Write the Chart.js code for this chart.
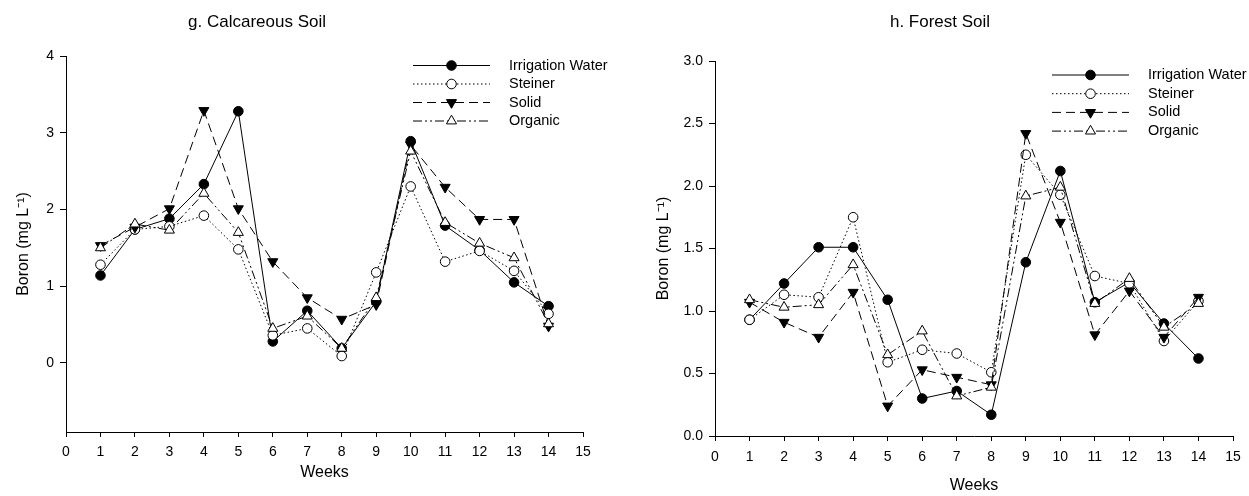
<!DOCTYPE html>
<html>
<head>
<meta charset="utf-8">
<title>Boron - Calcareous and Forest Soil</title>
<script src="https://cdn.jsdelivr.net/npm/chart.js"></script>
<style>
  body { margin: 0; background: #fff; }
  #wrap { position: relative; width: 1249px; height: 496px; }
  canvas { position: absolute; top: 0; }
  #calcChart { left: 0; }
  #forestChart { left: 625px; }
</style>
</head>
<body>
<div id="wrap">
  <canvas id="calcChart" width="625" height="496"></canvas>
  <canvas id="forestChart" width="624" height="496"></canvas>
</div>
<script>
/* DATA */
const weeks = [1, 2, 3, 4, 5, 6, 7, 8, 9, 10, 11, 12, 13, 14];
const seriesNames = ['Irrigation Water', 'Steiner', 'Solid', 'Organic'];
const xTicks = [0, 1, 2, 3, 4, 5, 6, 7, 8, 9, 10, 11, 12, 13, 14, 15];
const calcYTicks = [0, 1, 2, 3, 4];
const forestYTicks = [0, 0.5, 1, 1.5, 2, 2.5, 3];

// g. Calcareous Soil (mg/L)
const calcIrrigation = [1.14, 1.74, 1.88, 2.33, 3.28, 0.28, 0.68, 0.19, 0.80, 2.89, 1.79, 1.47, 1.05, 0.74];
const calcSteiner    = [1.28, 1.74, 1.78, 1.92, 1.48, 0.36, 0.45, 0.09, 1.18, 2.30, 1.32, 1.46, 1.20, 0.64];
const calcSolid      = [1.53, 1.77, 2.01, 3.29, 2.01, 1.32, 0.85, 0.57, 0.76, 2.84, 2.29, 1.87, 1.87, 0.48];
const calcOrganic    = [1.50, 1.81, 1.73, 2.21, 1.70, 0.45, 0.61, 0.19, 0.85, 2.76, 1.83, 1.56, 1.37, 0.51];

// h. Forest Soil (mg/L)
const forestIrrigation = [0.93, 1.22, 1.51, 1.51, 1.09, 0.30, 0.36, 0.17, 1.39, 2.12, 1.07, 1.23, 0.90, 0.62];
const forestSteiner    = [0.93, 1.13, 1.11, 1.75, 0.59, 0.69, 0.66, 0.51, 2.25, 1.93, 1.28, 1.22, 0.76, 1.08];
const forestSolid      = [1.07, 0.91, 0.79, 1.15, 0.24, 0.53, 0.47, 0.41, 2.42, 1.71, 0.81, 1.16, 0.79, 1.11];
const forestOrganic    = [1.09, 1.03, 1.05, 1.37, 0.65, 0.84, 0.32, 0.39, 1.92, 1.99, 1.06, 1.26, 0.87, 1.06];

const FONT = '"Liberation Sans", Arial, sans-serif';

// panel title, placed where SigmaPlot put it (not centred on the canvas)
const panelTitle = {
  id: 'panelTitle',
  afterDraw(chart, args, opts) {
    const ctx = chart.ctx;
    ctx.save();
    ctx.fillStyle = '#000';
    ctx.font = '17px ' + FONT;
    ctx.textAlign = 'center';
    ctx.textBaseline = 'middle';
    ctx.fillText(opts.text, opts.x, opts.y);
    ctx.restore();
  }
};

// line + marker legend, drawn like the SigmaPlot one
const lineLegend = {
  id: 'lineLegend',
  afterDraw(chart, args, opts) {
    const ctx = chart.ctx;
    chart.data.datasets.forEach((ds, i) => {
      const y = opts.y + i * opts.rowGap;
      const mid = (opts.x1 + opts.x2) / 2;
      ctx.save();
      ctx.strokeStyle = '#000';
      ctx.lineWidth = ds.borderWidth;
      ctx.setLineDash(ds.borderDash);
      ctx.beginPath();
      ctx.moveTo(opts.x1, y);
      ctx.lineTo(opts.x2, y);
      ctx.stroke();
      ctx.setLineDash([]);
      ctx.fillStyle = ds.pointBackgroundColor;
      ctx.strokeStyle = '#000';
      ctx.lineWidth = 1;
      Chart.helpers.drawPoint(ctx, {
        pointStyle: ds.pointStyle,
        rotation: ds.pointRotation,
        radius: ds.pointRadius,
        borderWidth: 1
      }, mid, y);
      ctx.fillStyle = '#000';
      ctx.font = '14.5px ' + FONT;
      ctx.textBaseline = 'middle';
      ctx.textAlign = 'left';
      ctx.fillText(ds.label, opts.textX, y);
      ctx.restore();
    });
  }
};

function makeDatasets(vals) {
  const styles = [
    { dash: [], point: 'circle', rot: 0, r: 4.8, fill: '#000' },
    { dash: [1.5, 2.5], point: 'circle', rot: 0, r: 4.8, fill: '#fff' },
    { dash: [9, 5], point: 'triangle', rot: 180, r: 5.8, fill: '#000' },
    { dash: [9, 3, 2, 3, 2, 3], point: 'triangle', rot: 0, r: 5.8, fill: '#fff' }
  ];
  return vals.map((v, i) => ({
    label: seriesNames[i],
    data: weeks.map((w, j) => ({ x: w, y: v[j] })),
    borderColor: '#000',
    borderWidth: 1,
    borderDash: styles[i].dash,
    pointStyle: styles[i].point,
    pointRotation: styles[i].rot,
    pointRadius: styles[i].r,
    pointBackgroundColor: styles[i].fill,
    pointBorderColor: '#000',
    pointBorderWidth: 1,
    fill: false,
    tension: 0,
    order: 4 - i // later series drawn on top
  }));
}

function makeOptions(cfg) {
  return {
    responsive: false,
    animation: false,
    layout: { padding: { left: 0, right: cfg.padRight, top: cfg.padTop, bottom: 0 } },
    plugins: {
      legend: { display: false },
      tooltip: { enabled: false },
      title: { display: false },
      panelTitle: cfg.title,
      lineLegend: cfg.legend
    },
    scales: {
      x: {
        type: 'linear',
        min: 0,
        max: 15,
        afterBuildTicks: s => { s.ticks = xTicks.map(v => ({ value: v })); },
        afterFit: s => { s.height = cfg.xHeight; },
        grid: { drawOnChartArea: false, drawTicks: true, tickLength: 5, color: '#000' },
        border: { display: true, color: '#000', width: 1 },
        ticks: { color: '#000', font: { family: FONT, size: 14 }, padding: cfg.xTickPad, maxRotation: 0 },
        title: {
          display: true,
          text: 'Weeks',
          color: '#000',
          font: { family: FONT, size: 16 },
          padding: { top: 0, bottom: cfg.xTitlePad }
        }
      },
      y: {
        min: cfg.yMin,
        max: cfg.yMax,
        afterBuildTicks: s => { s.ticks = cfg.yTicks.map(v => ({ value: v })); },
        afterFit: s => { s.width = cfg.yWidth; },
        grid: { drawOnChartArea: false, drawTicks: true, tickLength: 6, color: '#000' },
        border: { display: true, color: '#000', width: 1 },
        ticks: {
          color: '#000',
          font: { family: FONT, size: 14 },
          padding: 6,
          callback: v => cfg.yDecimals ? v.toFixed(cfg.yDecimals) : String(v)
        },
        title: {
          display: true,
          text: 'Boron (mg L\u207B\u00B9)',
          color: '#000',
          font: { family: FONT, size: 16 },
          padding: { top: cfg.yTitlePad, bottom: 0 }
        }
      }
    }
  };
}

// Left panel
new Chart(document.getElementById('calcChart'), {
  type: 'line',
  data: { datasets: makeDatasets([calcIrrigation, calcSteiner, calcSolid, calcOrganic]) },
  options: makeOptions({
    title: { text: 'g. Calcareous Soil', x: 257, y: 22 },
    padRight: 42,
    padTop: 56,
    xHeight: 64,
    xTickPad: 7,
    xTitlePad: 14,
    yMin: -0.9,
    yMax: 4,
    yTicks: calcYTicks,
    yDecimals: 0,
    yWidth: 66,
    yTitlePad: 14,
    legend: { x1: 413, x2: 490, textX: 509, y: 65.5, rowGap: 18.5 }
  }),
  plugins: [panelTitle, lineLegend]
});

// Right panel
new Chart(document.getElementById('forestChart'), {
  type: 'line',
  data: { datasets: makeDatasets([forestIrrigation, forestSteiner, forestSolid, forestOrganic]) },
  options: makeOptions({
    title: { text: 'h. Forest Soil', x: 315, y: 22 },
    padRight: 16,
    padTop: 61,
    xHeight: 60,
    xTickPad: 8,
    xTitlePad: 1,
    yMin: 0,
    yMax: 3,
    yTicks: forestYTicks,
    yDecimals: 1,
    yWidth: 90,
    yTitlePad: 29,
    legend: { x1: 427, x2: 504, textX: 523, y: 75, rowGap: 18.7 }
  }),
  plugins: [panelTitle, lineLegend]
});
</script>
</body>
</html>
